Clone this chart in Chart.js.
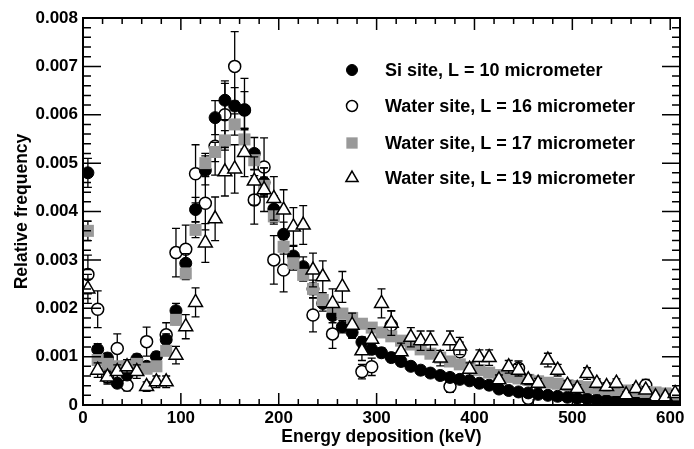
<!DOCTYPE html>
<html>
<head>
<meta charset="utf-8">
<title>Energy deposition spectra</title>
<script src="https://cdn.jsdelivr.net/npm/chart.js@4.4.1/dist/chart.umd.min.js"></script>
<style>
  html, body { margin: 0; padding: 0; background: #fff; }
  #wrap { width: 694px; height: 449px; }
</style>
</head>
<body>
<div id="wrap"><canvas id="spectrum"></canvas></div>
<script>
// bin centres, keV
var energy = [5, 15, 25, 35, 45, 55, 65, 75, 85, 95,
    105, 115, 125, 135, 145, 155, 165, 175, 185, 195,
    205, 215, 225, 235, 245, 255, 265, 275, 285, 295,
    305, 315, 325, 335, 345, 355, 365, 375, 385, 395,
    405, 415, 425, 435, 445, 455, 465, 475, 485, 495,
    505, 515, 525, 535, 545, 555, 565, 575, 585, 595, 605];

// relative frequency, in units of 1e-3 (null = point not visible)
var siL10 = [4.8, 1.15, 0.97, 0.45, 0.62, 0.95, 0.8, 1.0, 1.35, 1.95,
    2.93, 4.04, 4.85, 5.94, 6.3, 6.18, 6.1, 5.2, 4.6, 4.05,
    3.53, 3.08, 2.86, 2.4, 2.1, 1.85, 1.62, 1.5, 1.3, 1.15,
    1.08, 0.98, 0.9, 0.8, 0.72, 0.66, 0.61, 0.57, 0.53, 0.5,
    0.45, 0.41, 0.33, 0.3, 0.27, 0.25, 0.22, 0.2, 0.18, 0.16,
    0.14, 0.13, 0.11, 0.1, 0.09, 0.08, 0.07, 0.06, 0.05, 0.04, 0.04];
var siL10Err = [0.3, 0.12, 0.1, 0.07, 0.08, 0.1, 0.09, 0.1, 0.12, 0.15,
    0.2, 0.25, 0.3, 0.35, 0.4, 0.38, 0.38, 0.33, 0.3, 0.27,
    0.25, 0.22, 0.2, 0.18, 0.16, 0.15, 0.13, 0.12, 0.11, 0.1,
    0.1, 0.09, 0.09, 0.08, 0.08, 0.07, 0.07, 0.07, 0.06, 0.06,
    0.06, 0.06, 0.05, 0.05, 0.05, 0.05, 0.04, 0.04, 0.04, 0.04,
    0.04, 0.03, 0.03, 0.03, 0.03, 0.03, 0.03, 0.03, 0.02, 0.02, 0.02];

var waterL16 = [2.7, 1.98, 0.58, 1.17, 0.41, null, 1.31, null, 1.45, 3.15,
    3.22, 4.78, 4.17, 5.35, 6.0, 7.0, 6.1, 4.24, 4.92, 3.0,
    2.79, null, null, 1.86, null, 1.47, null, null, 0.69, 0.79,
    null, 1.65, null, null, null, null, null, 0.38, 1.1, null,
    null, null, null, null, 0.76, 0.14, null, null, null, null,
    null, null, null, null, null, null, 0.07, 0.41, null, null, null];
var waterL16Err = [0.4, 0.38, 0.15, 0.3, 0.12, 0, 0.3, 0, 0.25, 0.5,
    0.5, 0.6, 0.55, 0.6, 0.65, 0.72, 0.65, 0.5, 0.6, 0.5,
    0.45, 0, 0, 0.35, 0, 0.3, 0, 0, 0.15, 0.18,
    0, 0.3, 0, 0, 0, 0, 0, 0.12, 0.2, 0,
    0, 0, 0, 0, 0.15, 0.1, 0, 0, 0, 0,
    0, 0, 0, 0, 0, 0, 0.06, 0.12, 0, 0, 0];

var waterL17 = [3.6, 0.93, 0.85, 0.8, 0.8, 0.85, 0.75, 0.8, 1.12, 1.76,
    2.72, 3.62, 5.0, 5.23, 5.47, 5.8, 5.49, 5.06, 4.53, 3.9,
    3.27, 2.93, 2.69, 2.4, 2.17, 2.03, 1.89, 1.8, 1.68, 1.6,
    1.5, 1.42, 1.33, 1.25, 1.15, 1.06, 0.98, 0.9, 0.84, 0.78,
    0.72, 0.67, 0.62, 0.58, 0.55, 0.52, 0.49, 0.46, 0.44, 0.41,
    0.39, 0.37, 0.35, 0.33, 0.31, 0.3, 0.29, 0.27, 0.26, 0.24, 0.22];
var waterL17Err = [0.2, 0.08, 0.07, 0.07, 0.07, 0.07, 0.07, 0.07, 0.08, 0.1,
    0.13, 0.16, 0.2, 0.2, 0.2, 0.22, 0.2, 0.2, 0.18, 0.16,
    0.15, 0.14, 0.13, 0.12, 0.11, 0.1, 0.1, 0.1, 0.09, 0.09,
    0.08, 0.08, 0.08, 0.07, 0.07, 0.07, 0.06, 0.06, 0.06, 0.06,
    0.05, 0.05, 0.05, 0.05, 0.05, 0.04, 0.04, 0.04, 0.04, 0.04,
    0.04, 0.04, 0.03, 0.03, 0.03, 0.03, 0.03, 0.03, 0.03, 0.03, 0.03];

var waterL19 = [2.4, 0.72, 0.58, 0.69, 0.79, 0.69, 0.38, 0.48, 0.48, 1.03,
    1.62, 2.12, 3.35, 3.85, 4.82, 4.88, 5.22, 4.63, 4.45, 4.27,
    4.03, 3.68, 3.72, 2.79, 2.65, 2.1, 2.44, 1.65, 1.12, 1.36,
    2.1, 1.69, 1.1, 1.4, 1.33, 1.33, 0.97, 1.33, 1.22, 0.74,
    0.98, 0.98, 0.52, 0.79, 0.72, 0.52, 0.45, 0.93, 0.72, 0.41,
    0.34, 0.65, 0.45, 0.38, 0.45, 0.21, 0.34, 0.31, 0.17, 0.17, 0.24];
var waterL19Err = [0.3, 0.15, 0.12, 0.14, 0.15, 0.14, 0.1, 0.12, 0.12, 0.18,
    0.25, 0.3, 0.4, 0.45, 0.5, 0.5, 0.5, 0.5, 0.45, 0.45,
    0.42, 0.4, 0.4, 0.35, 0.33, 0.3, 0.32, 0.25, 0.2, 0.22,
    0.3, 0.25, 0.18, 0.2, 0.2, 0.2, 0.16, 0.2, 0.18, 0.13,
    0.16, 0.16, 0.1, 0.13, 0.12, 0.1, 0.1, 0.14, 0.12, 0.09,
    0.08, 0.12, 0.09, 0.08, 0.09, 0.06, 0.08, 0.07, 0.05, 0.05, 0.06];

var seriesLabels = [
    'Si site, L = 10 micrometer',
    'Water site, L = 16 micrometer',
    'Water site, L = 17 micrometer',
    'Water site, L = 19 micrometer'
];
var yTicks = [0, 0.001, 0.002, 0.003, 0.004, 0.005, 0.006, 0.007, 0.008];
var xTicks = [0, 100, 200, 300, 400, 500, 600];

var UNIT = 1e-3;
var FONT = "'Liberation Sans', Arial, Helvetica, sans-serif";

// turn the arrays into {x, y, err} points, skipping hidden ones
function toPoints(values, errs) {
    var pts = [];
    for (var i = 0; i < energy.length; i++) {
        if (values[i] === null) continue;
        pts.push({ x: energy[i], y: values[i] * UNIT, err: errs[i] * UNIT });
    }
    return pts;
}

// vertical error bars, drawn just before each dataset's markers
var errorBars = {
    id: 'errorBars',
    beforeDatasetDraw: function (chart, args) {
        var ds = chart.data.datasets[args.index];
        var ys = chart.scales.y;
        var ctx = chart.ctx;
        var a = chart.chartArea;
        ctx.save();
        ctx.beginPath();
        ctx.rect(a.left, a.top, a.width, a.height);
        ctx.clip();
        ctx.strokeStyle = '#000';
        ctx.lineWidth = 1.3;
        args.meta.data.forEach(function (pt, k) {
            var d = ds.data[k];
            if (!d.err) return;
            var top = ys.getPixelForValue(d.y + d.err);
            var bot = ys.getPixelForValue(Math.max(d.y - d.err, 0));
            ctx.beginPath();
            ctx.moveTo(pt.x, top);
            ctx.lineTo(pt.x, bot);
            ctx.moveTo(pt.x - 4, top);
            ctx.lineTo(pt.x + 4, top);
            ctx.moveTo(pt.x - 4, bot);
            ctx.lineTo(pt.x + 4, bot);
            ctx.stroke();
        });
        ctx.restore();
    }
};

// boxed frame with inward ticks on all four sides
var frameTicks = {
    id: 'frameTicks',
    afterDatasetsDraw: function (chart) {
        var ctx = chart.ctx;
        var a = chart.chartArea;
        var xs = chart.scales.x;
        var ys = chart.scales.y;
        ctx.save();
        ctx.strokeStyle = '#000';
        ctx.lineWidth = 1.5;
        ctx.beginPath();
        for (var i = 0; i * 20 <= xs.max; i++) {
            var px = xs.getPixelForValue(i * 20);
            var len = (i % 5 === 0) ? 12 : 6;
            ctx.moveTo(px, a.bottom);
            ctx.lineTo(px, a.bottom - len);
            ctx.moveTo(px, a.top);
            ctx.lineTo(px, a.top + len);
        }
        for (var j = 0; j <= 40; j++) {
            var py = ys.getPixelForValue(j * 0.0002);
            var l = (j % 5 === 0) ? 18 : 8;
            ctx.moveTo(a.left, py);
            ctx.lineTo(a.left + l, py);
            ctx.moveTo(a.right, py);
            ctx.lineTo(a.right - l, py);
        }
        ctx.stroke();
        ctx.lineWidth = 2;
        ctx.strokeRect(a.left, a.top, a.width, a.height);
        ctx.restore();
    }
};

// legend inside the plot, top right
var legendBox = {
    id: 'legendBox',
    afterDraw: function (chart) {
        var ctx = chart.ctx;
        var rows = [70, 106, 143, 178];
        ctx.save();
        ctx.font = 'bold 18px ' + FONT;
        ctx.textBaseline = 'middle';
        ctx.textAlign = 'left';
        chart.data.datasets.forEach(function (ds) {
            var y = rows[ds.legendRow];
            ctx.fillStyle = ds.backgroundColor;
            ctx.strokeStyle = ds.borderColor;
            ctx.lineWidth = ds.borderWidth;
            Chart.helpers.drawPoint(ctx, {
                pointStyle: ds.pointStyle,
                radius: ds.legendRadius,
                borderWidth: ds.borderWidth,
                rotation: 0
            }, 352, y);
            ctx.fillStyle = '#000';
            ctx.fillText(ds.label, 385, y + 1);
        });
        ctx.restore();
    }
};

var datasets = [
    {
        label: seriesLabels[3],
        data: toPoints(waterL19, waterL19Err),
        pointStyle: 'triangle',
        pointRadius: 8,
        backgroundColor: '#ffffff',
        borderColor: '#000000',
        borderWidth: 1.5,
        legendRow: 3,
        legendRadius: 7,
        order: 0
    },
    {
        label: seriesLabels[2],
        data: toPoints(waterL17, waterL17Err),
        pointStyle: 'rect',
        pointRadius: 8.5,
        backgroundColor: '#999999',
        borderColor: '#999999',
        borderWidth: 0,
        legendRow: 2,
        legendRadius: 8,
        order: 1
    },
    {
        label: seriesLabels[0],
        data: toPoints(siL10, siL10Err),
        pointStyle: 'circle',
        pointRadius: 6,
        backgroundColor: '#000000',
        borderColor: '#000000',
        borderWidth: 1,
        legendRow: 0,
        legendRadius: 5.5,
        order: 2
    },
    {
        label: seriesLabels[1],
        data: toPoints(waterL16, waterL16Err),
        pointStyle: 'circle',
        pointRadius: 6,
        backgroundColor: '#ffffff',
        borderColor: '#000000',
        borderWidth: 1.5,
        legendRow: 1,
        legendRadius: 5.5,
        order: 3
    }
];
datasets.forEach(function (ds) {
    ds.pointHoverRadius = ds.pointRadius;
    ds.showLine = false;
});

var tickFont = { family: FONT, size: 17, weight: 'bold' };
var titleFont = { family: FONT, size: 17.5, weight: 'bold', lineHeight: 1 };

var chart = new Chart(document.getElementById('spectrum'), {
    type: 'scatter',
    data: { datasets: datasets },
    options: {
        responsive: true,
        maintainAspectRatio: false,
        animation: false,
        events: [],
        layout: { padding: { top: 18, right: 14, left: 0, bottom: 0 } },
        plugins: {
            legend: { display: false },
            tooltip: { enabled: false }
        },
        scales: {
            x: {
                type: 'linear',
                min: 0,
                max: 610,
                grid: { display: false, drawTicks: false },
                border: { display: false },
                afterBuildTicks: function (s) {
                    s.ticks = xTicks.map(function (v) { return { value: v }; });
                },
                ticks: { padding: 3, maxRotation: 0, autoSkip: false, color: '#000', font: tickFont },
                title: {
                    display: true,
                    text: 'Energy deposition (keV)',
                    color: '#000',
                    font: titleFont,
                    padding: { top: 0, bottom: 3 }
                },
                afterFit: function (s) { s.height = 44; }
            },
            y: {
                min: 0,
                max: 0.008,
                grid: { display: false, drawTicks: false },
                border: { display: false },
                afterBuildTicks: function (s) {
                    s.ticks = yTicks.map(function (v) { return { value: v }; });
                },
                ticks: {
                    padding: 5,
                    autoSkip: false,
                    color: '#000',
                    font: tickFont,
                    callback: function (v) { return v === 0 ? '0' : v.toFixed(3); }
                },
                title: {
                    display: true,
                    text: 'Relative frequency',
                    color: '#000',
                    font: titleFont,
                    padding: { top: 13, bottom: 0 }
                },
                afterFit: function (s) { s.width = 83; }
            }
        }
    },
    plugins: [errorBars, frameTicks, legendBox]
});
</script>
</body>
</html>
